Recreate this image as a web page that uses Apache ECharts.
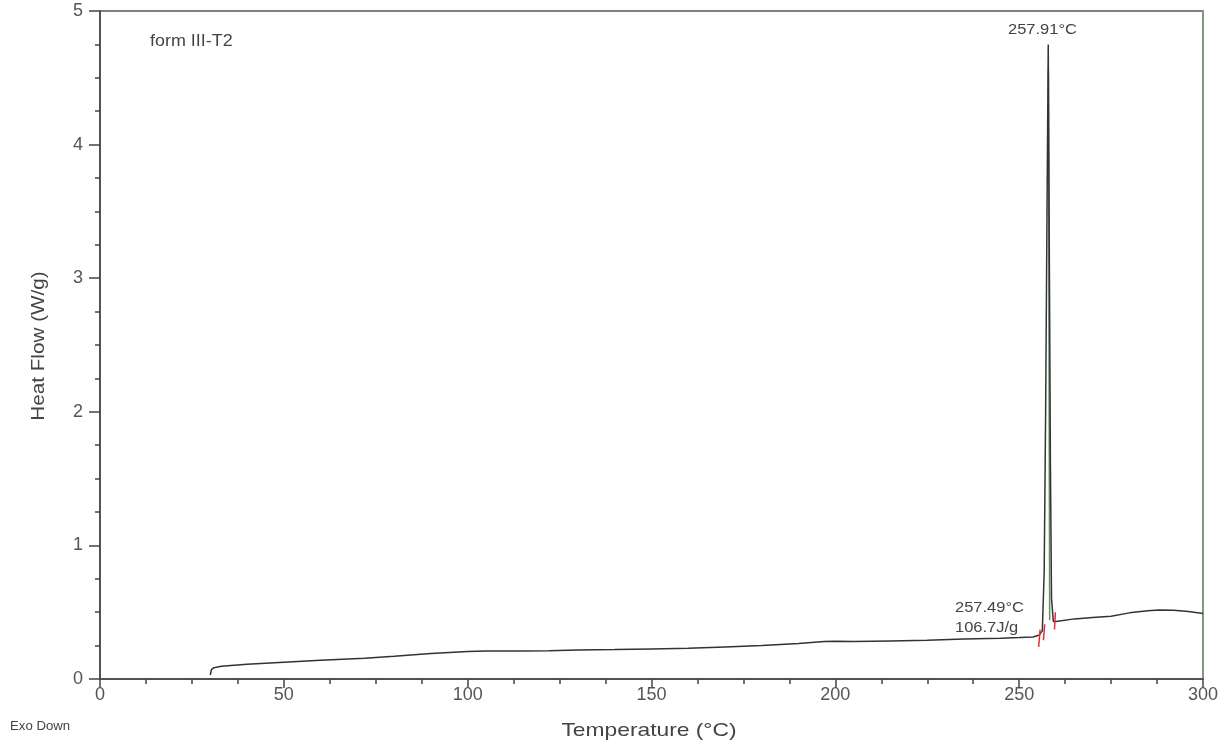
<!DOCTYPE html>
<html>
<head>
<meta charset="utf-8">
<script src="https://cdn.jsdelivr.net/npm/echarts@6/dist/echarts.min.js"></script>
<style>html,body{margin:0;padding:0;background:#fff}#c{width:1227px;height:746px}</style>
</head>
<body>
<div id="c"></div>
<script>
// Temperature (°C) and heat flow (W/g)
const tempC = [30, 30.3, 31, 33, 40, 50, 60, 72, 80, 90, 100, 105, 115, 122, 130, 140, 150, 160, 170, 180, 190, 197, 200, 205, 215, 225, 235, 245, 250, 253.8, 255.5, 256.3, 256.8, 257.2, 257.6, 257.91, 258.2, 258.5, 258.8, 259.3, 260, 265, 270, 275, 280, 285, 288, 292, 296, 300];
const heatFlow = [0.03, 0.07, 0.085, 0.095, 0.11, 0.125, 0.14, 0.155, 0.17, 0.19, 0.205, 0.21, 0.21, 0.212, 0.217, 0.22, 0.225, 0.23, 0.24, 0.25, 0.265, 0.28, 0.283, 0.28, 0.285, 0.29, 0.3, 0.305, 0.31, 0.315, 0.33, 0.36, 0.8, 2.0, 3.6, 4.75, 3.2, 1.6, 0.6, 0.43, 0.43, 0.45, 0.46, 0.47, 0.495, 0.51, 0.517, 0.515, 0.505, 0.49];
// green trace at the peak
const greenTemp = [257.95, 258.3];
const greenHeat = [4.55, 0.44];
// red integration limit marks (pairs, null separates)
const redTemp = [255.3, 255.7, null, 256.6, 256.95, null, 259.6, 259.85];
const redHeat = [0.24, 0.37, null, 0.29, 0.41, null, 0.37, 0.5];
const xTicks = [0, 50, 100, 150, 200, 250, 300];
const yTicks = [0, 1, 2, 3, 4, 5];

const pairs = (xs, ys) => xs.map((x, i) => x === null ? [null, null] : [x, ys[i]]);

const chart = echarts.init(document.getElementById('c'));
const txt = '#444';
const F = 'Liberation Sans';
chart.setOption({
  animation: false,
  backgroundColor: '#fff',
  grid: {left: 100, right: 24, top: 11, bottom: 67, show: true, borderColor: '#555', borderWidth: 1.5},
  xAxis: {
    type: 'value', min: 0, max: 300, interval: 50,
    axisLine: {lineStyle: {color: '#444', width: 1.5}},
    axisTick: {length: 9, lineStyle: {color: '#444', width: 1.5}},
    minorTick: {show: true, splitNumber: 4, length: 5, lineStyle: {color: '#444', width: 1.5}},
    axisLabel: {fontFamily: F, fontSize: 18, color: '#555', margin: 7,
      formatter: v => xTicks.includes(v) ? String(v) : ''},
    splitLine: {show: false}
  },
  yAxis: [{
    type: 'value', min: 0, max: 5, interval: 1,
    axisLine: {show: true, lineStyle: {color: '#444', width: 1.5}},
    axisTick: {show: true, length: 11, lineStyle: {color: '#444', width: 1.5}},
    minorTick: {show: true, splitNumber: 4, length: 5, lineStyle: {color: '#444', width: 1.5}},
    axisLabel: {fontFamily: F, fontSize: 18, color: '#555', margin: 17,
      formatter: v => yTicks.includes(v) ? String(v) : ''},
    splitLine: {show: false}
  }, {
    type: 'value', min: 0, max: 5, position: 'right',
    axisLine: {show: true, lineStyle: {color: '#7f9a80', width: 2}},
    axisTick: {show: false}, axisLabel: {show: false}, splitLine: {show: false}
  }],
  series: [
    {type: 'line', data: pairs(tempC, heatFlow), showSymbol: false, symbol: 'none',
      lineStyle: {color: '#333', width: 1.5}, z: 3},
    {type: 'line', data: pairs(greenTemp, greenHeat), showSymbol: false, symbol: 'none',
      lineStyle: {color: '#5f8f5f', width: 1.5}, z: 2},
    {type: 'line', data: pairs(redTemp, redHeat), showSymbol: false, symbol: 'none', connectNulls: false,
      lineStyle: {color: '#e0303a', width: 1.5}, z: 4}
  ],
  graphic: [
    {type: 'text', x: 150, y: 42, scaleX: 1.12, style: {text: 'form III-T2', fontFamily: F, fontSize: 16, fill: txt, verticalAlign: 'middle'}},
    {type: 'text', x: 1008, y: 30, scaleX: 1.1, style: {text: '257.91°C', fontFamily: F, fontSize: 15, fill: txt, verticalAlign: 'middle'}},
    {type: 'text', x: 955, y: 608, scaleX: 1.1, style: {text: '257.49°C', fontFamily: F, fontSize: 15, fill: txt, verticalAlign: 'middle'}},
    {type: 'text', x: 955, y: 628, scaleX: 1.1, style: {text: '106.7J/g', fontFamily: F, fontSize: 15, fill: txt, verticalAlign: 'middle'}},
    {type: 'text', x: 10, y: 727, scaleX: 1.1, style: {text: 'Exo Down', fontFamily: F, fontSize: 12, fill: txt, verticalAlign: 'middle'}},
    {type: 'text', x: 649, y: 731, scaleX: 1.2, style: {text: 'Temperature (°C)', fontFamily: F, fontSize: 19, fill: txt, align: 'center', verticalAlign: 'middle'}},
    {type: 'text', x: 39, y: 346, rotation: Math.PI / 2, scaleX: 1.15, style: {text: 'Heat Flow (W/g)', fontFamily: F, fontSize: 18, fill: txt, align: 'center', verticalAlign: 'middle'}}
  ]
});
</script>
</body>
</html>
